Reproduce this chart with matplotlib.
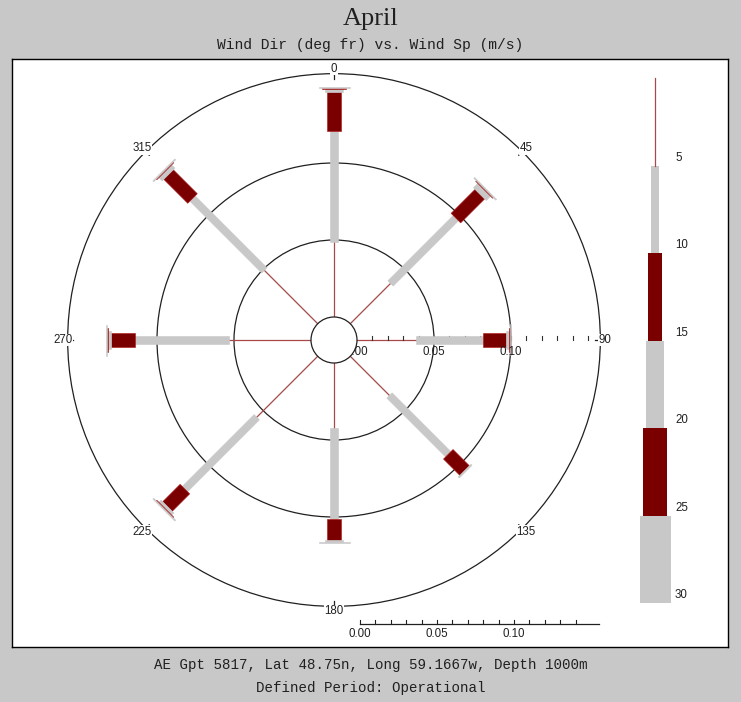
import numpy as np
import matplotlib
matplotlib.use('Agg')
import matplotlib.pyplot as plt
from matplotlib.patches import Polygon, Circle

# Wind rose data: frequency per direction for each speed class (m/s)
DIRECTIONS = [0, 45, 90, 135, 180, 225, 270, 315]
COMPASS_LABELS = ['0', '45', '90', '135', '180', '225', '270', '315']
FREQ_0_5 = [0.049, 0.037, 0.038, 0.036, 0.042, 0.056, 0.053, 0.049]
FREQ_5_10 = [0.072, 0.060, 0.044, 0.054, 0.059, 0.066, 0.061, 0.066]
FREQ_10_15 = [0.025, 0.022, 0.015, 0.015, 0.014, 0.016, 0.016, 0.022]
FREQ_15_20 = [0.002, 0.004, 0.002, 0.001, 0.001, 0.002, 0.002, 0.003]
FREQ_20_25 = [0.0005, 0.0005, 0.0005, 0.0, 0.0, 0.0005, 0.0005, 0.0005]
FREQ_25_30 = [0.0008, 0.0008, 0.0008, 0.0, 0.0008, 0.0008, 0.0008, 0.0008]
SPEED_EDGES = [0, 5, 10, 15, 20, 25, 30]
LEGEND_LABELS = ['5', '10', '15', '20', '25', '30']
RING_VALUES = [0.05, 0.10]
OUTER_RING = 0.158
SCALE_LABELS = [0.00, 0.05, 0.10]

# Styles
BG = '#c8c8c8'
DARK_RED = '#7a0000'
LIGHT_GRAY = '#c8c8c8'
LINE_RED = '#a84848'
CLASS_COLORS = [LINE_RED, LIGHT_GRAY, DARK_RED, LIGHT_GRAY, DARK_RED, LIGHT_GRAY]
CLASS_WIDTHS_PX = [1, 7.5, 13.5, 18, 24, 31]
PX = 1540.0          # pixels per frequency unit
HOLE = 23 / PX       # radius of the calm circle
W, H = 741, 702
CX, CY = 334, 340    # rose centre in pixels
PANEL = (12, 59, 728, 647)
SMALL = 8.3

fig = plt.figure(figsize=(W / 100, H / 100), dpi=100, facecolor=BG)

x0, y0, x1, y1 = PANEL
ax = fig.add_axes([x0 / W, (H - y1) / H, (x1 - x0) / W, (y1 - y0) / H])
ax.set_xlim((x0 - CX) / PX, (x1 - CX) / PX)
ax.set_ylim((CY - y1) / PX, (CY - y0) / PX)
ax.set_facecolor('white')
ax.set_xticks([])
ax.set_yticks([])
for s in ax.spines.values():
    s.set_color('black')
    s.set_linewidth(1.0)

# Rings
for r in RING_VALUES + [OUTER_RING]:
    ax.add_patch(Circle((0, 0), HOLE + r, fill=False, ec='#202020', lw=0.9, zorder=2))

# Petals
classes = [FREQ_0_5, FREQ_5_10, FREQ_10_15, FREQ_15_20, FREQ_20_25, FREQ_25_30]
for i, d in enumerate(DIRECTIONS):
    th = np.deg2rad(d)
    ux, uy = np.sin(th), np.cos(th)
    px_, py_ = np.cos(th), -np.sin(th)
    r0 = HOLE
    for k, freqs in enumerate(classes):
        r1 = r0 + freqs[i]
        if freqs[i] > 0:
            if k == 0:
                ax.plot([r0 * ux, r1 * ux], [r0 * uy, r1 * uy], color=LINE_RED, lw=0.9, zorder=3)
            else:
                hw = CLASS_WIDTHS_PX[k] / 2 / PX
                pts = [(r0 * ux + hw * px_, r0 * uy + hw * py_),
                       (r1 * ux + hw * px_, r1 * uy + hw * py_),
                       (r1 * ux - hw * px_, r1 * uy - hw * py_),
                       (r0 * ux - hw * px_, r0 * uy - hw * py_)]
                ec = '#b01010' if CLASS_COLORS[k] == DARK_RED else CLASS_COLORS[k]
                ax.add_patch(Polygon(pts, closed=True, fc=CLASS_COLORS[k], ec=ec,
                                     lw=0.4, zorder=4 + k * 0.1))
        r0 = r1

# Compass ticks and labels
for d, lab in zip(DIRECTIONS, COMPASS_LABELS):
    th = np.deg2rad(d)
    ux, uy = np.sin(th), np.cos(th)
    ro = HOLE + OUTER_RING
    ri = ro - 5 / PX
    ax.plot([ri * ux, ro * ux], [ri * uy, ro * uy], color='#202020', lw=0.9, zorder=2)
    rl = ro + 5 / PX
    ax.text(rl * ux, rl * uy, lab, ha='center', va='center', fontsize=SMALL,
            family='Liberation Sans', color='#202020', zorder=6,
            bbox=dict(fc='white', ec='none', pad=0.3))

# Radial scale along 90 deg
for v in np.arange(0.01, 0.151, 0.01):
    ax.plot([HOLE + v, HOLE + v], [0, 4 / PX], color='#303030', lw=0.8, zorder=3.5)
for v in SCALE_LABELS:
    ax.text(HOLE + v, -12 / PX, f'{v:.2f}', ha='center', va='center', fontsize=SMALL,
            family='Liberation Sans', color='#202020', zorder=5)

# Calm circle
ax.add_patch(Circle((0, 0), HOLE, fc='white', ec='#202020', lw=0.9, zorder=7))

# Bottom scale bar
ys = (CY - 624) / PX
sx = HOLE + 3 / PX
ax.plot([sx, sx + 0.155], [ys, ys], color='#202020', lw=0.9)
for v in np.arange(0, 0.141, 0.01):
    ax.plot([sx + v, sx + v], [ys, ys + 4 / PX], color='#202020', lw=0.8)
for v in SCALE_LABELS:
    ax.text(sx + v, ys - 10 / PX, f'{v:.2f}', ha='center', va='center', fontsize=SMALL,
            family='Liberation Sans', color='#202020')

# Speed legend bar
lx0, ly0, lx1, ly1 = 620, 70, 720, 612
lax = fig.add_axes([lx0 / W, (H - ly1) / H, (lx1 - lx0) / W, (ly1 - ly0) / H])
lax.set_xlim(-35, 65)
top, per = 78, 17.5
lax.set_ylim((ly1 - top) / per, (ly0 - top) / per)
lax.axis('off')
for k in range(len(SPEED_EDGES) - 1):
    lo, hi = SPEED_EDGES[k], SPEED_EDGES[k + 1]
    if k == 0:
        lax.plot([0, 0], [lo, hi], color=LINE_RED, lw=0.9)
    else:
        lax.bar(0, hi - lo, bottom=lo, width=CLASS_WIDTHS_PX[k], color=CLASS_COLORS[k],
                edgecolor='none')
for v, lab in zip(SPEED_EDGES[1:], LEGEND_LABELS):
    lax.text(20, v - 0.45, lab, ha='left', va='center', fontsize=SMALL,
             family='Liberation Sans', color='#202020')

# Titles and footer
fig.text(0.5, 1 - 19 / H, 'April', ha='center', va='center', fontsize=19,
         family='Liberation Serif', color='#202020')
fig.text(0.5, 1 - 45 / H, 'Wind Dir (deg fr) vs. Wind Sp (m/s)', ha='center', va='center',
         fontsize=10.5, family='Liberation Mono', color='#202020')
fig.text(0.5, 1 - 665 / H, 'AE Gpt 5817, Lat 48.75n, Long 59.1667w, Depth 1000m',
         ha='center', va='center', fontsize=10.2, family='Liberation Mono', color='#202020')
fig.text(0.5, 1 - 688 / H, 'Defined Period: Operational', ha='center', va='center',
         fontsize=10.2, family='Liberation Mono', color='#202020')

fig.savefig('out.png', dpi=100, facecolor=BG)
